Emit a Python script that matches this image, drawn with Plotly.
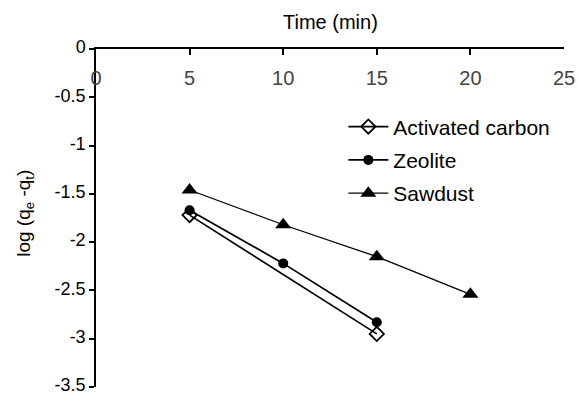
import plotly.graph_objects as go

ac_x = [5, 15]
ac_y = [-1.72, -2.95]
ze_x = [5, 10, 15]
ze_y = [-1.67, -2.22, -2.83]
sd_x = [5, 10, 15, 20]
sd_y = [-1.46, -1.82, -2.15, -2.54]

x_ticks = [0, 5, 10, 15, 20, 25]
x_labels = ["0", "5", "10", "15", "20", "25"]
y_ticks = [0, -0.5, -1, -1.5, -2, -2.5, -3, -3.5]
y_labels = ["0", "-0.5", "-1", "-1.5", "-2", "-2.5", "-3", "-3.5"]

x_title = "Time (min)"
y_title = "log (q<sub>e</sub> -q<sub>t</sub>)"

FONT = "Liberation Sans, Arial, sans-serif"

fig = go.Figure()
fig.add_trace(go.Scatter(x=ac_x, y=ac_y, name="Activated carbon", mode="lines+markers",
                         legendgroup="a",
                         line=dict(color="black", width=1.7),
                         marker=dict(symbol="diamond-open", size=11, color="black", line=dict(width=1.8))))
fig.add_trace(go.Scatter(x=ze_x, y=ze_y, name="Zeolite", mode="lines+markers",
                         legendgroup="b",
                         line=dict(color="black", width=1.7),
                         marker=dict(symbol="circle", size=10, color="black")))
fig.add_trace(go.Scatter(x=sd_x, y=sd_y, name="Sawdust", mode="lines+markers",
                         legendgroup="c",
                         line=dict(color="black", width=1.3),
                         marker=dict(symbol="triangle-up", size=14, color="black")))

fig.update_layout(
    width=578, height=394,
    margin=dict(l=96, r=14, t=49, b=7),
    paper_bgcolor="white", plot_bgcolor="white",
    font=dict(family=FONT, size=20, color="black"),
    showlegend=True,
    legend=dict(x=0.5285, y=0.83, xanchor="left", yanchor="top",
                font=dict(size=21), bgcolor="rgba(0,0,0,0)",
                itemwidth=40, tracegroupgap=3),
    xaxis=dict(range=[0, 25], side="top", showline=True, linecolor="black", linewidth=1.5,
               ticks="inside", ticklen=6, tickwidth=1.5, tickcolor="black",
               tickvals=x_ticks, ticktext=x_labels, ticklabelposition="inside",
               ticklabeloverflow="allow", ticklabelstandoff=17,
               showgrid=False, zeroline=False, automargin=False),
    yaxis=dict(range=[-3.5, 0], showline=True, linecolor="black", linewidth=1.5,
               ticks="outside", ticklen=5, tickwidth=1.5, tickcolor="black",
               tickvals=y_ticks, ticktext=y_labels, ticklabeloverflow="allow",
               ticklabelshift=-2, tickfont=dict(size=18),
               showgrid=False, zeroline=False, automargin=False),
    annotations=[
        dict(text=x_title, xref="paper", yref="paper", x=0.5, y=1.08,
             xanchor="center", yanchor="middle", showarrow=False,
             font=dict(size=20)),
        dict(text=y_title, xref="paper", yref="paper", x=-0.152, y=0.515,
             xanchor="center", yanchor="middle", showarrow=False, textangle=-90,
             font=dict(size=19)),
    ],
)

fig.write_html("out.html", config={"displayModeBar": False},
               post_script="document.body.style.margin='0';document.body.style.overflow='hidden';")
